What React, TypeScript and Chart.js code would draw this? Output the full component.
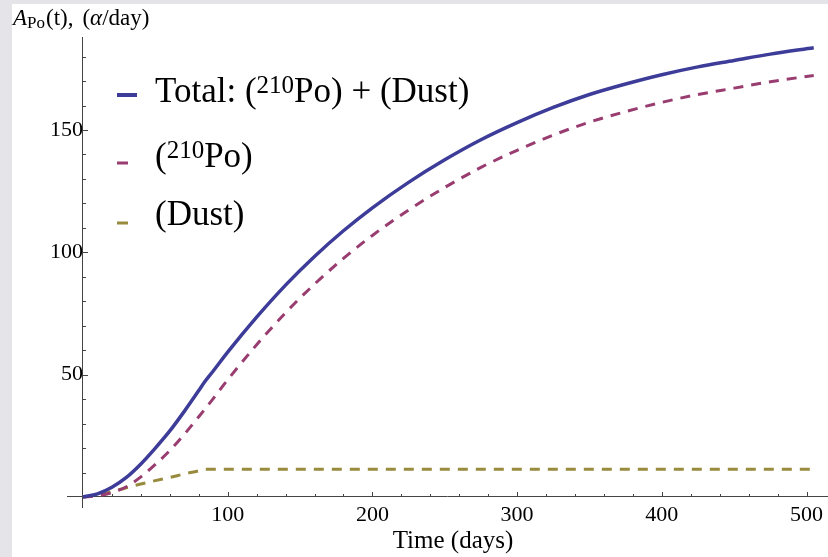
import React, { useEffect, useRef } from 'react';
import { Chart, registerables } from 'chart.js';

Chart.register(...registerables);

// ---- data ----
const DAYS = [0, 10, 20, 30, 40, 50, 60, 70, 80, 84, 90, 100, 120, 140, 160, 180, 200, 225, 250, 275, 300, 325, 350, 375, 400, 425, 450, 475, 505];
const TOTAL = [0, 1.3, 4.0, 8.0, 13.5, 20, 27, 35, 43.5, 47, 51.5, 59.2, 73.5, 86.6, 98.3, 108.8, 118.2, 128.6, 137.8, 146, 153, 159.2, 164.5, 168.8, 172.6, 175.8, 178.4, 181, 183.6];
const PO210 = [0, 0.5, 1.8, 4.2, 8.2, 13.3, 19, 25.6, 32.8, 35.7, 40.2, 47.9, 62.2, 75.3, 87.0, 97.5, 106.9, 117.3, 126.5, 134.7, 141.7, 147.9, 153.2, 157.5, 161.3, 164.5, 167.1, 169.7, 172.3];
const DUST = [0, 0.8, 2.2, 3.8, 5.3, 6.7, 8.0, 9.4, 10.7, 11.3, 11.3, 11.3, 11.3, 11.3, 11.3, 11.3, 11.3, 11.3, 11.3, 11.3, 11.3, 11.3, 11.3, 11.3, 11.3, 11.3, 11.3, 11.3, 11.3];

const X_LABELS = [100, 200, 300, 400, 500];
const Y_LABELS = [50, 100, 150];

const BLUE = '#3d3d99';
const MAGENTA = '#993d71';
const OLIVE = '#998b3d';
const SERIF = "'Liberation Serif', 'Times New Roman', serif";
const AXIS = '#444444';

type Part = { t: string; size: number; italic?: boolean; dy?: number; gap?: number };

function drawRich(ctx: CanvasRenderingContext2D, x: number, y: number, parts: Part[]) {
  let cx = x;
  for (const p of parts) {
    ctx.font = `${p.italic ? 'italic ' : ''}${p.size}px ${SERIF}`;
    cx += p.gap || 0;
    ctx.fillText(p.t, cx, y + (p.dy || 0));
    cx += ctx.measureText(p.t).width;
  }
}

const decorPlugin = {
  id: 'decor',
  beforeDraw(chart: any) {
    const { ctx, width, height } = chart;
    ctx.save();
    ctx.fillStyle = '#e5e5e9';
    ctx.fillRect(0, 0, width, height);
    ctx.fillStyle = '#ffffff';
    ctx.fillRect(12, 4, width - 12, height - 4);
    ctx.restore();
  },
  beforeDatasetsDraw(chart: any) {
    const { ctx } = chart;
    const xs = chart.scales.x;
    const ys = chart.scales.y;
    const x0 = xs.getPixelForValue(0);
    const y0 = ys.getPixelForValue(0);
    ctx.save();
    ctx.strokeStyle = AXIS;
    ctx.lineWidth = 1;
    ctx.beginPath();
    for (let v = 10; v <= ys.max; v += 10) {
      const py = Math.round(ys.getPixelForValue(v)) + 0.5;
      const len = v % 50 === 0 ? 5 : 3;
      ctx.moveTo(x0, py);
      ctx.lineTo(x0 + len, py);
    }
    for (let t = 20; t <= xs.max; t += 20) {
      const px = Math.round(xs.getPixelForValue(t)) + 0.5;
      const len = t % 100 === 0 ? 5 : 3;
      ctx.moveTo(px, y0);
      ctx.lineTo(px, y0 - len);
    }
    ctx.stroke();
    ctx.restore();
  },
  afterDraw(chart: any) {
    const { ctx } = chart;
    ctx.save();
    ctx.fillStyle = '#000000';
    ctx.textBaseline = 'alphabetic';
    ctx.textAlign = 'left';
    // y-axis title
    drawRich(ctx, 13, 25, [
      { t: 'A', size: 23, italic: true },
      { t: 'Po', size: 17, dy: 3 },
      { t: '(t),', size: 23, gap: 1 },
      { t: '(', size: 23, gap: 9 },
      { t: 'α', size: 23, italic: true },
      { t: '/day)', size: 23 },
    ]);
    // x-axis title
    ctx.font = `25px ${SERIF}`;
    ctx.textAlign = 'center';
    ctx.fillText('Time (days)', 453, 548);
    ctx.textAlign = 'left';

    // legend
    ctx.lineCap = 'butt';
    ctx.lineWidth = 4;
    ctx.strokeStyle = BLUE;
    ctx.beginPath(); ctx.moveTo(117, 95); ctx.lineTo(137, 95); ctx.stroke();
    ctx.lineWidth = 3;
    ctx.strokeStyle = MAGENTA;
    ctx.beginPath(); ctx.moveTo(117, 163); ctx.lineTo(128, 163); ctx.stroke();
    ctx.strokeStyle = OLIVE;
    ctx.beginPath(); ctx.moveTo(117, 223); ctx.lineTo(128, 223); ctx.stroke();

    drawRich(ctx, 155, 102, [
      { t: 'Total: (', size: 35 },
      { t: '210', size: 25, dy: -9 },
      { t: 'Po) + (Dust)', size: 35 },
    ]);
    drawRich(ctx, 155, 167, [
      { t: '(', size: 35 },
      { t: '210', size: 25, dy: -9 },
      { t: 'Po)', size: 35 },
    ]);
    drawRich(ctx, 155, 225, [{ t: '(Dust)', size: 35 }]);
    ctx.restore();
  },
};

const toPts = (ys: number[]) => DAYS.map((d, i) => ({ x: d, y: ys[i] }));

export default function App() {
  const ref = useRef<HTMLCanvasElement | null>(null);
  useEffect(() => {
    document.body.style.margin = '0';
    const canvas = ref.current;
    if (!canvas) return;
    const chart = new Chart(canvas, {
      type: 'line',
      data: {
        datasets: [
          {
            label: 'Total',
            data: toPts(TOTAL),
            borderColor: BLUE,
            borderWidth: 3.5,
            pointRadius: 0,
            cubicInterpolationMode: 'monotone',
            fill: false,
          },
          {
            label: '210Po',
            data: toPts(PO210),
            borderColor: MAGENTA,
            borderWidth: 3,
            borderDash: [10, 8],
            pointRadius: 0,
            cubicInterpolationMode: 'monotone',
            fill: false,
          },
          {
            label: 'Dust',
            data: toPts(DUST),
            borderColor: OLIVE,
            borderWidth: 3,
            borderDash: [10, 8],
            pointRadius: 0,
            cubicInterpolationMode: 'monotone',
            fill: false,
          },
        ],
      },
      options: {
        responsive: false,
        animation: false,
        events: [],
        layout: { padding: { left: 67, right: 0, top: 37, bottom: 50 } },
        plugins: { legend: { display: false }, tooltip: { enabled: false } },
        scales: {
          x: {
            type: 'linear',
            position: { y: 0 },
            min: -11.05,
            max: 514.5,
            grid: { display: false, drawTicks: false },
            border: { display: true, color: AXIS, width: 1 },
            ticks: {
              stepSize: 20,
              includeBounds: false,
              autoSkip: false,
              maxRotation: 0,
              padding: 5,
              color: '#000',
              font: { family: SERIF, size: 22 },
              callback: (v: any) => (X_LABELS.includes(Number(v)) ? String(v) : ''),
            },
          },
          y: {
            type: 'linear',
            position: { x: 0 },
            min: -4.09,
            max: 188,
            grid: { display: false, drawTicks: false },
            border: { display: true, color: AXIS, width: 1 },
            ticks: {
              stepSize: 10,
              includeBounds: false,
              autoSkip: false,
              padding: 4,
              color: '#000',
              font: { family: SERIF, size: 22 },
              callback: (v: any) => (Y_LABELS.includes(Number(v)) ? String(v) : ''),
            },
          },
        },
      },
      plugins: [decorPlugin],
    } as any);
    return () => chart.destroy();
  }, []);
  return (
    <div style={{ width: 828, height: 557 }}>
      <canvas ref={ref} width={828} height={557} style={{ display: 'block' }} />
    </div>
  );
}
